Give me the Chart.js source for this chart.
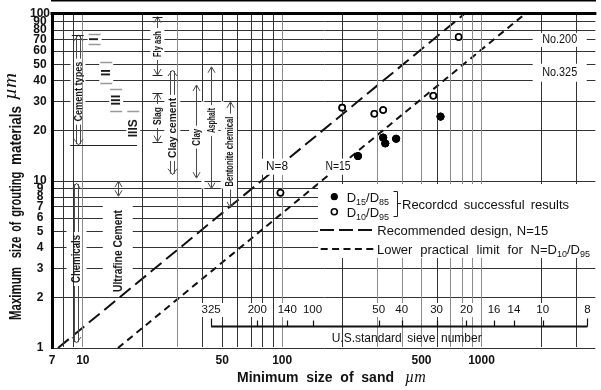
<!DOCTYPE html>
<html><head><meta charset="utf-8">
<script src="https://cdn.jsdelivr.net/npm/chart.js@4/dist/chart.umd.min.js"></script>
<style>html,body{margin:0;padding:0;background:#fff;}canvas{display:block;}</style>
</head><body>
<canvas id="c" width="601" height="390"></canvas>
<script>
// ---------------- data ----------------
const xGridValues = [7,8,9,10,20,30,40,50,60,70,80,90,100,200,300,400,500,600,700,800,900,1000,2000,3000];
const xTickLabels = [7,10,50,100,500,1000];
const yGridValues = [1,2,3,4,5,6,7,8,9,10,20,30,40,50,60,70,80,90,100];
const yTickLabels = [1,2,3,4,5,6,7,8,9,10,20,30,40,50,60,70,80,90,100];

const d15d85SandSize  = [240, 321, 329, 373, 623];
const d15d85GroutSize = [14.1, 18.2, 16.8, 17.9, 24.3];
const d10d95SandSize  = [98, 200, 290, 321, 573, 768];
const d10d95GroutSize = [8.5, 27.5, 25.3, 26.6, 32.4, 72.8];

const recommendedSand  = [7.5, 820];
const recommendedGrout = [1, 100];
const lowerLimitSand   = [15, 1650];
const lowerLimitGrout  = [1, 100];

const materialNames = ['Cement types','Fly ash','Slag','Clay cement','Clay','Asphalt','Bentonite chemical','Chemicals','Ultrafine Cement'];
const materialMax   = [75, 96.4, 33.5, 46.2, 37.6, 48.3, 29.8, 9.7, 10];
const materialMin   = [16.4, 43.1, 17.2, 10.9, 10.4, 9.0, 6.9, 1.07, 8.1];

const cementTypeNames = ['I','II','III','IIIS'];
const cementTypeMax   = [75.6, 51.4, 35.4, 26.3];
const cementTypeMin   = [66.1, 38.6, 26.3, 16.3];

const sieveNumbers = ['325','200','140','100','50','40','30','20','16','14','10','8'];
const sieveOpening = [44, 75, 106, 142, 305, 398, 595, 840, 1156, 1455, 2028, 3400];

const sieveLineNames = ['No.200','No.325'];
const sieveLineSize  = [70, 44.5];

const lineLabels = ['N=8','N=15'];
const lineLabelSand  = [94.2, 190.4];
const lineLabelGrout = [12.18, 12.18];

// ---------------- helpers ----------------
const FONT = "'Liberation Sans', Arial, Helvetica, sans-serif";
const pts = (xs, ys) => xs.map((x, i) => ({x, y: ys[i]}));

function fitText(ctx, text, x, y, w, font, rot, color) {
  ctx.save();
  ctx.translate(x, y);
  if (rot) ctx.rotate(-Math.PI / 2);
  ctx.font = font; ctx.textAlign = 'center'; ctx.textBaseline = 'middle';
  ctx.fillStyle = color || '#1a1a1a';
  const m = ctx.measureText(text).width;
  if (w) ctx.scale(w / m, 1);
  ctx.fillText(text, 0, 0);
  ctx.restore();
}
function spreadText(ctx, segs, x, y, target, font, subFont) {
  ctx.save();
  ctx.textBaseline = 'alphabetic'; ctx.textAlign = 'left'; ctx.fillStyle = '#111';
  let natural = 0, spaces = 0;
  segs.forEach(s => {
    ctx.font = s.sub ? subFont : font;
    natural += ctx.measureText(s.t).width;
    if (!s.sub) spaces += (s.t.match(/ /g) || []).length;
  });
  const extra = (spaces && target) ? Math.max(0, (target - natural) / spaces) : 0;
  let cx = x;
  segs.forEach(s => {
    ctx.font = s.sub ? subFont : font;
    if (s.sub) { ctx.fillText(s.t, cx, y + 3); cx += ctx.measureText(s.t).width; }
    else {
      const parts = s.t.split(' ');
      parts.forEach((p, i) => {
        if (p) { ctx.fillText(p, cx, y); cx += ctx.measureText(p).width; }
        if (i < parts.length - 1) cx += ctx.measureText(' ').width + extra;
      });
    }
  });
  ctx.restore();
}
function vline(ctx, x, y1, y2) { ctx.beginPath(); ctx.moveTo(x, y1); ctx.lineTo(x, y2); ctx.stroke(); }
function hline(ctx, x1, x2, y) { ctx.beginPath(); ctx.moveTo(x1, y); ctx.lineTo(x2, y); ctx.stroke(); }

// layout of the annotation columns (position in data units, style)
const matLayout = [
  {x: 9.45,  ty: 34.3, len: 60, fs: 11.5, dbl: true, box: 7.5, topBar: [8.8, 10.1], botBar: [8.64, 18.7]},
  {x: 23.66, ty: 66.1, len: 26, fs: 11, box: 7, bars: 5},
  {x: 23.66, ty: 24.5, len: 18, fs: 11, box: 7, bars: 5},
  {x: 28.1,  ty: 20.8, len: 60, fs: 11, dbl: true, box: 8},
  {x: 36.98, ty: 18.3, len: 17, fs: 11, box: 7},
  {x: 44.1,  ty: 23.0, len: 25, fs: 11, box: 7},
  {x: 54.8,  ty: 15.0, len: 70, fs: 10, box: 7},
  {x: 9.29,  ty: 3.41, len: 48, fs: 12, dbl: true, box: 10},
  {x: 14.96, ty: 3.81, len: 82, fs: 12, box: 15}
];
const numeralX = [11.45, 13.1, 14.69, 17.9];
// y-axis title words: [text, start px, end px] along the axis
const yTitleWords = [['Maximum', 320, 267], ['size', 258.3, 236.7], ['of', 231.7, 221.7], ['grouting', 216.7, 171.7], ['materials', 165, 106]];

const annot = {
  id: 'annot',
  beforeDatasetsDraw(chart) {
    const {ctx, scales: {x: sx, y: sy}} = chart;
    const X = v => sx.getPixelForValue(v), Y = v => sy.getPixelForValue(v);
    ctx.save();
    ctx.fillStyle = '#fff';
    matLayout.forEach(L => {
      const cx = X(L.x), cy = Y(L.ty), h = L.len + 8;
      ctx.fillRect(cx - L.box, cy - h / 2, L.box * 2, h);
    });
    cementTypeNames.forEach((n, i) => {
      const cx = X(numeralX[i]), t = Y(cementTypeMax[i]), b = Y(cementTypeMin[i]);
      ctx.fillRect(cx - 7, t + 1, 14, b - t - 2);
    });
    ctx.restore();
  },
  afterDraw(chart) {
    const {ctx, chartArea: A, scales: {x: sx, y: sy}} = chart;
    const X = v => sx.getPixelForValue(v), Y = v => sy.getPixelForValue(v);
    ctx.save();

    // erase grid segments hidden in the original
    ctx.fillStyle = '#fff';
    [40, 50].forEach(v => ctx.fillRect(X(v) - 1.5, Y(30), 3, Y(9) - Y(30)));

    // material range arrows
    ctx.strokeStyle = '#4a4a4a'; ctx.lineWidth = 1;
    matLayout.forEach((L, i) => {
      const cx = Math.round(X(L.x)) + 0.5;
      const top = Y(materialMax[i]), bot = Y(materialMin[i]);
      const cy = Y(L.ty), g1 = cy - L.len / 2 - 3, g2 = cy + L.len / 2 + 3;
      const offs = L.dbl ? [-2, 2] : [0];
      ctx.strokeStyle = '#4a4a4a'; ctx.lineWidth = 1;
      offs.forEach(o => {
        if (g2 < top || g1 > bot) vline(ctx, cx + o, top + 1, bot - 1);
        else {
          if (g1 > top) vline(ctx, cx + o, top + 1, g1);
          if (g2 < bot) vline(ctx, cx + o, g2, bot - 1);
        }
      });
      const hw = L.dbl ? 4.5 : 3.5;
      ctx.beginPath();
      ctx.moveTo(cx - hw, top + 6); ctx.lineTo(cx, top); ctx.lineTo(cx + hw, top + 6);
      ctx.moveTo(cx - hw, bot - 6); ctx.lineTo(cx, bot); ctx.lineTo(cx + hw, bot - 6);
      ctx.stroke();
      ctx.strokeStyle = '#222';
      if (L.bars) {
        hline(ctx, cx - L.bars, cx + L.bars, Math.round(top) + 0.5);
        hline(ctx, cx - L.bars, cx + L.bars, Math.round(bot) + 0.5);
      }
      if (L.topBar) hline(ctx, X(L.topBar[0]), X(L.topBar[1]), Math.round(top) + 0.5);
      if (L.botBar) hline(ctx, X(L.botBar[0]), X(L.botBar[1]), Math.round(bot) + 0.5);
      fitText(ctx, materialNames[i], cx, cy, L.len, 'bold ' + L.fs + 'px ' + FONT, true, '#1a1a1a');
    });

    // cement type numerals
    cementTypeNames.forEach((n, i) => {
      const cx = X(numeralX[i]), t = Y(cementTypeMax[i]), b = Y(cementTypeMin[i]);
      ctx.strokeStyle = '#9a9a9a'; ctx.lineWidth = 1.5;
      hline(ctx, cx - 6, cx + 6, Math.round(t) + 0.5);
      if (i < 3) hline(ctx, cx - 6, cx + 6, Math.round(b) + 0.5);
      fitText(ctx, n, cx, (t + b) / 2, 0, (i < 3 ? 'bold 13px ' : 'bold 12px ') + FONT, true, '#1a1a1a');
    });

    // N labels on the design lines
    lineLabels.forEach((t, i) => {
      const cx = X(lineLabelSand[i]), cy = Y(lineLabelGrout[i]);
      ctx.fillStyle = '#fff'; ctx.fillRect(cx - 15, cy - 8, 30, 16);
      fitText(ctx, t, cx, cy, i ? 25 : 22, '12px ' + FONT, false, '#111');
    });

    // No.200 / No.325
    sieveLineNames.forEach((t, i) => {
      const cx = X(2468), cy = Y(sieveLineSize[i]);
      ctx.fillStyle = '#fff'; ctx.fillRect(cx - 27, cy - (i ? 9 : 7), 54, i ? 18 : 14);
      fitText(ctx, t, cx, cy, 35, '12px ' + FONT, false, '#111');
    });

    // sieve number axis
    const ay = A.bottom - 21.5, ly = A.bottom - 38;
    ctx.font = '11.5px ' + FONT;
    sieveNumbers.forEach((t, i) => {
      const cx = X(sieveOpening[i]), w = ctx.measureText(t).width;
      ctx.fillStyle = '#fff'; ctx.fillRect(cx - w / 2 - 3, ly - 7, w + 6, 14);
    });
    ctx.strokeStyle = '#111'; ctx.lineWidth = 2;
    const sx0 = X(sieveOpening[0]), sx1 = X(sieveOpening[sieveOpening.length - 1]);
    hline(ctx, sx0, sx1, ay);
    ctx.lineWidth = 1.2;
    sieveOpening.forEach((v, i) => {
      const cx = Math.round(X(v)) + 0.5;
      const end = (i === 0 || i === sieveOpening.length - 1);
      vline(ctx, cx, ay, ay - (end ? 8 : 6));
    });
    sieveNumbers.forEach((t, i) => {
      ctx.fillStyle = '#111'; ctx.font = '11.5px ' + FONT; ctx.textAlign = 'center'; ctx.textBaseline = 'middle';
      ctx.fillText(t, X(sieveOpening[i]), ly);
    });
    spreadText(ctx, [{t: 'U.S.standard sieve number'}], 331.7, A.bottom - 6.5, 150, '12px ' + FONT, '9px ' + FONT);

    // legend
    ctx.fillStyle = '#fff'; ctx.fillRect(318, 184, chart.width - 318, 74);
    ctx.fillStyle = '#000';
    ctx.beginPath(); ctx.arc(334.3, 196.7, 3.6, 0, Math.PI * 2); ctx.fill();
    ctx.beginPath(); ctx.arc(334.3, 211.7, 3, 0, Math.PI * 2);
    ctx.fillStyle = '#fff'; ctx.fill(); ctx.lineWidth = 1.6; ctx.strokeStyle = '#000'; ctx.stroke();
    const F13 = '13px ' + FONT, F9 = '9px ' + FONT;
    spreadText(ctx, [{t: 'D'}, {t: '15', sub: 1}, {t: '/D'}, {t: '85', sub: 1}], 346.7, 201.5, 0, F13, F9);
    spreadText(ctx, [{t: 'D'}, {t: '10', sub: 1}, {t: '/D'}, {t: '95', sub: 1}], 346.7, 216.5, 0, F13, F9);
    ctx.strokeStyle = '#222'; ctx.lineWidth = 1;
    ctx.beginPath();
    ctx.moveTo(393.5, 191.5); ctx.lineTo(397.5, 191.5); ctx.lineTo(397.5, 216.5); ctx.lineTo(393.5, 216.5);
    ctx.moveTo(397.5, 203.5); ctx.lineTo(401, 203.5);
    ctx.stroke();
    spreadText(ctx, [{t: 'Recordcd successful results'}], 402, 208.5, 167, F13, F9);
    ctx.strokeStyle = '#111'; ctx.lineWidth = 2;
    ctx.setLineDash([14, 5]); hline(ctx, 320, 372, 230);
    ctx.setLineDash([7, 4.4]); hline(ctx, 320.7, 373.3, 249);
    ctx.setLineDash([]);
    spreadText(ctx, [{t: 'Recommended design, N=15'}], 377.3, 234.5, 171, F13, F9);
    spreadText(ctx, [{t: 'Lower practical limit for N=D'}, {t: '10', sub: 1}, {t: '/D'}, {t: '95', sub: 1}], 377, 253.5, 213, F13, F9);

    // top frame
    ctx.strokeStyle = '#000'; ctx.lineWidth = 3;
    hline(ctx, A.left - 1.5, A.right + 1, A.top - 0.5);

    // axis titles
    const FB = 'bold 14px ' + FONT, FMU = 'italic 16px "Liberation Serif", "Times New Roman", serif';
    spreadText(ctx, [{t: 'Minimum size of sand'}], 237, 382, 157, FB, F9);
    ctx.font = FMU; ctx.fillStyle = '#111'; ctx.textAlign = 'left'; ctx.textBaseline = 'alphabetic';
    ctx.fillText('\u00b5m', 405, 382);
    yTitleWords.forEach(([w, s, e]) => {
      ctx.save();
      ctx.translate(20.5, (s + e) / 2); ctx.rotate(-Math.PI / 2);
      ctx.font = 'bold 16px ' + FONT; ctx.fillStyle = '#111'; ctx.textAlign = 'center'; ctx.textBaseline = 'alphabetic';
      ctx.scale((s - e) / ctx.measureText(w).width, 1);
      ctx.fillText(w, 0, 0);
      ctx.restore();
    });
    ctx.save();
    ctx.translate(15.5, 86.5); ctx.rotate(-Math.PI / 2);
    ctx.font = 'italic 19px "Liberation Serif", "Times New Roman", serif'; ctx.fillStyle = '#111';
    ctx.textAlign = 'center'; ctx.textBaseline = 'alphabetic';
    ctx.scale(27 / ctx.measureText('\u00b5m').width, 1);
    ctx.fillText('\u00b5m', 0, 0);
    ctx.restore();

    // markers back on top of the grid
    [2, 3].forEach(i => chart.getDatasetMeta(i).data.forEach(el => el.draw(ctx, A)));
    ctx.restore();
  }
};

const lightX = [10, 30, 100, 300, 400, 500, 700, 800, 900, 1000];

new Chart(document.getElementById('c').getContext('2d'), {
  type: 'scatter',
  data: {
    datasets: [
      {label: 'Recommended design, N=15', data: pts(recommendedSand, recommendedGrout), showLine: true,
       borderColor: '#111', borderWidth: 2, borderDash: [14, 6], pointRadius: 0, fill: false},
      {label: 'Lower practical limit for N=D10/D95', data: pts(lowerLimitSand, lowerLimitGrout), showLine: true,
       borderColor: '#111', borderWidth: 2, borderDash: [7, 5], pointRadius: 0, fill: false},
      {label: 'D15/D85', data: pts(d15d85SandSize, d15d85GroutSize), pointRadius: 3.6,
       backgroundColor: '#000', borderColor: '#000', borderWidth: 1},
      {label: 'D10/D95', data: pts(d10d95SandSize, d10d95GroutSize), pointRadius: 3,
       backgroundColor: '#fff', borderColor: '#000', borderWidth: 1.6}
    ]
  },
  options: {
    responsive: false, animation: false, devicePixelRatio: 1,
    layout: {padding: {top: 14, right: 1, left: 0, bottom: 0}},
    plugins: {legend: {display: false}, tooltip: {enabled: false}},
    scales: {
      x: {
        type: 'logarithmic', position: 'bottom', min: 7, max: 3728,
        afterBuildTicks: s => { s.ticks = xGridValues.map(v => ({value: v})); },
        afterFit: s => { s.height = 42; },
        grid: {z: 1, drawTicks: false, lineWidth: 1,
               color: c => (c.tick && c.tick.value === 7) ? 'rgba(0,0,0,0)' : (lightX.includes(c.tick && c.tick.value) ? '#8c8c8c' : '#333')},
        border: {display: true, color: '#000', width: 3},
        ticks: {autoSkip: false, maxRotation: 0, minRotation: 0, padding: 5, color: '#111',
                font: {family: FONT, size: 12, weight: 'bold'},
                callback: v => xTickLabels.includes(v) ? String(v) : ''}
      },
      y: {
        type: 'logarithmic', position: 'left', min: 1, max: 100,
        afterBuildTicks: s => { s.ticks = yGridValues.map(v => ({value: v})); },
        afterFit: s => { s.width = 52; },
        grid: {z: -1, drawTicks: false, lineWidth: 1, color: '#333'},
        border: {display: true, color: '#000', width: 3},
        ticks: {autoSkip: false, crossAlign: 'center', padding: 2, color: '#111',
                font: {family: FONT, size: 12, weight: 'bold'},
                callback: v => yTickLabels.includes(v) ? String(v) : ''}
      }
    }
  },
  plugins: [annot]
});
</script>
</body></html>
